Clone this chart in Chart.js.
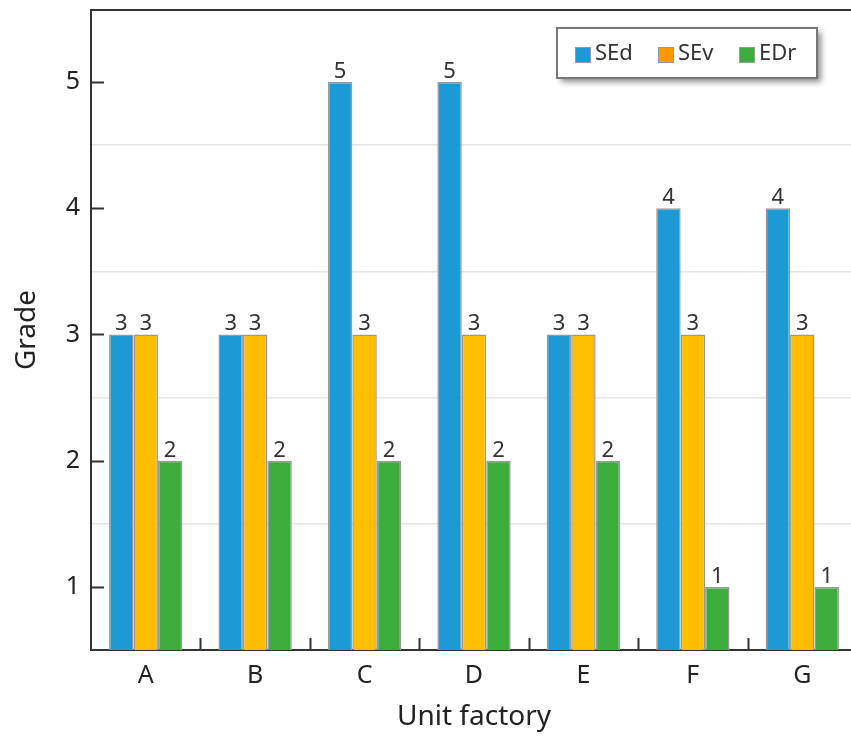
<!DOCTYPE html>
<html>
<head>
<meta charset="utf-8">
<script src="https://cdn.jsdelivr.net/npm/chart.js@4/dist/chart.umd.min.js"></script>
<style>
	html, body { margin: 0; padding: 0; background: #fff; overflow: hidden; }
	#wrap { width: 860px; height: 738px; }
</style>
</head>
<body>
<div id="wrap"><canvas id="chart" width="860" height="738"></canvas></div>
<script>
const categories = ['A', 'B', 'C', 'D', 'E', 'F', 'G'];
const sedValues = [3, 3, 5, 5, 3, 4, 4];
const sevValues = [3, 3, 3, 3, 3, 3, 3];
const edrValues = [2, 2, 2, 2, 2, 1, 1];
const seriesNames = ['SEd', 'SEv', 'EDr'];
const yTickValues = [1, 2, 3, 4, 5];
const yGridValues = [1.5, 2.5, 3.5, 4.5];

const barColors = ['#1b9ad6', '#ffbe00', '#3cad3c'];
const legendColors = ['#1b9ad6', '#ff9900', '#3cad3c'];
const fontFamily = '"Noto Sans", "Open Sans", sans-serif';
const axisColor = '#333';

// value labels above each bar
const valueLabels = {
	id: 'valueLabels',
	afterDatasetsDraw(chart) {
		const ctx = chart.ctx;
		ctx.save();
		ctx.font = '22px ' + fontFamily;
		ctx.fillStyle = '#333';
		ctx.textAlign = 'center';
		ctx.textBaseline = 'alphabetic';
		chart.data.datasets.forEach((ds, i) => {
			chart.getDatasetMeta(i).data.forEach((bar, j) => {
				ctx.fillText(String(ds.data[j]), bar.x, bar.y - 4);
			});
		});
		ctx.restore();
	}
};

// frame: top border, inner tick marks on both axes
const frame = {
	id: 'frame',
	afterDraw(chart) {
		const ctx = chart.ctx;
		const area = chart.chartArea;
		const x = chart.scales.x, y = chart.scales.y;
		ctx.save();
		ctx.strokeStyle = axisColor;
		ctx.lineWidth = 2;
		ctx.beginPath();
		ctx.moveTo(area.left - 1, area.top);
		ctx.lineTo(chart.width, area.top);
		yTickValues.forEach(v => {
			const py = Math.round(y.getPixelForValue(v)) + 0.5;
			ctx.moveTo(area.left, py);
			ctx.lineTo(area.left + 13, py);
		});
		for (let i = 1; i < categories.length; i++) {
			const px = Math.round((x.getPixelForValue(i - 1) + x.getPixelForValue(i)) / 2) + 0.5;
			ctx.moveTo(px, area.bottom);
			ctx.lineTo(px, area.bottom - 12);
		}
		ctx.stroke();
		ctx.restore();
	}
};

// boxed legend with drop shadow
const boxLegend = {
	id: 'boxLegend',
	afterDraw(chart) {
		const ctx = chart.ctx;
		const bx = 557, by = 28, bw = 260, bh = 50;
		ctx.save();
		ctx.shadowColor = 'rgba(0,0,0,0.45)';
		ctx.shadowBlur = 6;
		ctx.shadowOffsetX = 4;
		ctx.shadowOffsetY = 4;
		ctx.fillStyle = '#fff';
		ctx.fillRect(bx, by, bw, bh);
		ctx.shadowColor = 'transparent';
		ctx.strokeStyle = '#777';
		ctx.lineWidth = 2;
		ctx.strokeRect(bx, by, bw, bh);
		ctx.font = '22px ' + fontFamily;
		ctx.textBaseline = 'middle';
		ctx.textAlign = 'left';
		const starts = [575, 658, 739];
		seriesNames.forEach((name, i) => {
			ctx.fillStyle = legendColors[i];
			ctx.fillRect(starts[i], 47, 16, 16);
			ctx.strokeStyle = '#999';
			ctx.lineWidth = 1;
			ctx.strokeRect(starts[i] + 0.5, 47.5, 15, 15);
			ctx.fillStyle = '#333';
			ctx.fillText(name, starts[i] + 20, 54);
		});
		ctx.restore();
	}
};

const datasets = [sedValues, sevValues, edrValues].map((values, i) => ({
	label: seriesNames[i],
	data: values,
	backgroundColor: barColors[i],
	borderColor: '#999',
	borderWidth: 1.5,
	borderSkipped: false,
	categoryPercentage: 0.67,
	barPercentage: 1.0
}));

const chart = new Chart(document.getElementById('chart'), {
	type: 'bar',
	data: { labels: categories, datasets: datasets },
	plugins: [valueLabels, frame, boxLegend],
	options: {
		responsive: false,
		animation: false,
		devicePixelRatio: 1,
		layout: { padding: { top: 10, right: 3, left: 0, bottom: 0 } },
		plugins: { legend: { display: false }, tooltip: { enabled: false } },
		scales: {
			x: {
				grid: { display: false, drawTicks: false },
				border: { display: true, color: axisColor, width: 2 },
				ticks: { color: '#222', font: { family: fontFamily, size: 25 }, padding: 11 },
				title: { display: true, text: 'Unit factory', color: '#222', font: { family: fontFamily, size: 28 }, padding: { top: 0, bottom: 4 } },
				afterFit: scale => { scale.height = 88; scale.paddingLeft = 0; scale.paddingRight = 0; }
			},
			y: {
				min: 0.5,
				max: 5.57,
				afterBuildTicks: scale => {
					scale.ticks = yTickValues.concat(yGridValues).sort((a, b) => a - b).map(v => ({ value: v }));
				},
				grid: {
					drawTicks: false,
					color: c => (c.tick && yGridValues.includes(c.tick.value)) ? '#e4e4e4' : 'rgba(0,0,0,0)',
					lineWidth: 1.5
				},
				border: { display: true, color: axisColor, width: 2 },
				ticks: {
					color: '#222',
					font: { family: fontFamily, size: 25 },
					padding: 11,
					callback: v => yTickValues.includes(v) ? String(v) : ''
				},
				title: { display: true, text: 'Grade', color: '#222', font: { family: fontFamily, size: 28 }, padding: { top: 10, bottom: 0 } },
				afterFit: scale => { scale.width = 91; scale.paddingTop = 0; scale.paddingBottom = 0; }
			}
		}
	}
});
</script>
</body>
</html>
